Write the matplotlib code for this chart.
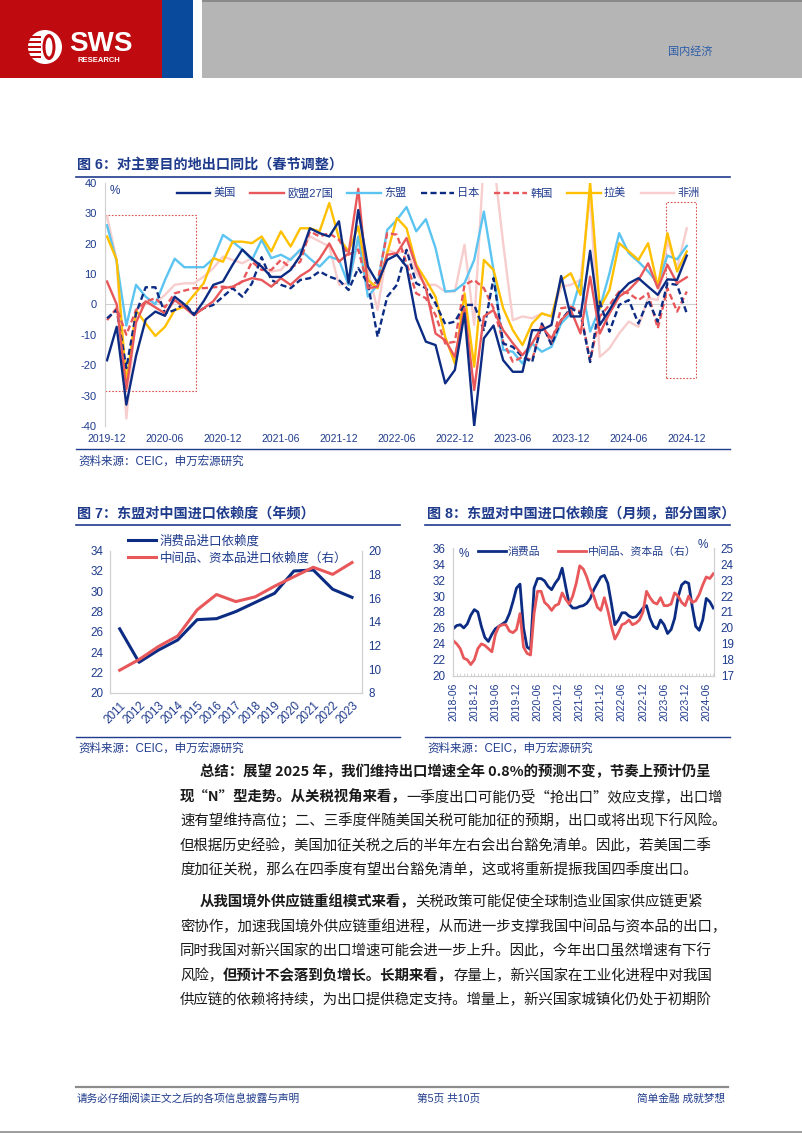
import numpy as np
import pandas as pd
import matplotlib
matplotlib.use("Agg")
import matplotlib.pyplot as plt
from matplotlib.patches import Rectangle, Circle, Ellipse

plt.rcParams['font.family'] = ['Liberation Sans', 'Noto Sans CJK SC']
plt.rcParams['axes.unicode_minus'] = False

W, H = 802, 1133
NAVY = '#0c2c84'
RED = '#e8585b'
TXT = '#1f3b8c'
GRID = '#d0d0d0'

# ---- 图6 data: monthly, 2019-12 .. 2024-12 (spring festival adjusted yoy, %)
months6 = list(pd.period_range('2019-12', '2024-12', freq='M').strftime('%Y-%m'))
us = [-18.4, -7.4, -33, -17, -5, -2.4, -3.8, 2.5, 0, -3.5, 1, 6.4, 7.5, 13, 18, 15, 12.4, 9, 9, 11.3, 16,
      25, 23.4, 22.3, 27.3, 7, 31, 12.4, 7, 14.6, 16.3, 12.4, -4.6, -12.3, -13.4, -26, -21.6, -3, -40, -11.2, -7,
      -18.4, -22.2, -22.2, -8.5, -8.5, -6.8, 9.3, -4, -4, 17.6, -6.8, -1.9, 3.6, 6.9, 8.6, 5.8, 3.1, 8.2, 8, 16]
eu = [7.5, 0, -28, -6, 1, -1, -3, 1.4, -1, -3.6, -1.3, 1, 5.3, 5.8, 7.5, 8.6, 8, 5.8, 8.6, 6.4, 9.3,
      11.3, 15, 20, 14, 16.8, 38, 5.3, 5.8, 16.3, 16.8, 21.8, 12.4, 5.3, -9.6, -11.8, -17.3, -1.3, -28.2, -4, -1.9,
      -8.5, -12.8, -16.7, -12.8, -7.4, -11.2, -5.2, -1.9, -9.6, 9.1, -9.6, -3, 2.5, 4.7, 8, 13.5, 5.3, 13, 6.9, 8.9]
asean = [26, 14, -7, 6.4, 2.5, 0, 8, 15, 12.2, 12.2, 12.2, 15, 22.8, 20.6, 18, 14.6, 21.2, 15.2, 16.3, 14.6, 18,
         15, 12.4, 15.7, 14.6, 6.4, 22.3, 2.5, 6.4, 24.5, 27.8, 32, 24, 28, 18.5, 4.2, 4.5, 7, 14.6, 30.5, 11.3,
         -15, -15.6, -19.5, -12.9, -15.6, -14, -6.3, -3, 8, -9, -1.3, 10.2, 23.4, 16.8, 14, 10.8, 6.9, 16, 14.8, 19.2]
japan = [-4.6, -1.9, -21, -3, 5.6, 5.6, -3, -1.9, 0.3, -3.2, -1.3, -0.2, 2.5, 5.3, 2.5, 6.9, 15.5, 8, 6.4, 5.3, 8,
         8.6, 10.8, 9.1, 8, 4.7, 11.9, 6.9, -10.7, 2.5, 6.4, 17.9, 6.9, 5.3, 0.3, -6.5, -5.7, -0.2, -0.2, -8.5, 8.6,
         -12.9, -14, -17.3, -19, -6.3, -13.4, -5.2, -1.3, -3, -19, 0.9, -9, -0.2, 1.4, -6.3, 1.4, -5.7, 6.9, 6.4, -3]
korea = [-5.2, -1.3, -10, -1.9, 0.9, 2, -1, 3.6, 4.5, 5.3, 5.3, 5.6, 5.8, 5.3, 7.5, 14, 11.3, 11.3, 14.6, 11.9, 14,
         24, 22.3, 23.4, 21.2, 16.3, 18, 5.8, 7.5, 23.4, 22.9, 13.5, 3.6, 2, -3.5, -12.9, -12.3, 6.4, 8, 5.3, -1.3,
         -12.3, -18.9, -17.3, -18.4, -6.3, -12.9, -1.3, -0.8, -2.4, -18.4, -4, -0.2, 4.2, 3.6, 1.4, 3.6, -7.9, 5.3, -2.4, 4.2]
latam = [22.3, 14.6, -26, -2, -6.3, -10.4, -7.4, -1.9, -0.8, 3.1, 6.9, 15.2, 14, 20.6, 20.6, 20.1, 22.3, 17.4, 24, 19, 25,
         25, 24, 33.3, 21.8, 17.4, 25.6, 8, 5.3, 16.8, 28.4, 25, 13, 8, 2.5, -10.7, -19.5, 3.6, -20.5, 14.6, 11.3,
         -1.3, -8.5, -13.4, -6.3, -3, -4, 8, 10.2, 3.1, 40, -1.3, 4.7, 20.1, 17.4, 14.6, 20.1, 5.8, 23.4, 10.8, 17.4]
africa = [28.9, 14.6, -37.6, -1.9, 0.3, 0.3, 3.1, 6.4, 6.9, 6.9, 9.1, 11.9, 15.7, 14.6, 13.5, 15.2, 12.4, 10.8, 11.3, 15.2, 17.4,
          22.3, 20.7, 19, 6.4, 6.9, 20.7, 11.3, -1.9, 17.9, 16.8, 17.9, 10.2, 6.4, 6.4, 4.2, 4.2, 19.6, -6.8, 48, 48,
          20, -5.2, -4, -4.6, -3, -4, 5.8, 6.4, 8, 36, -17.3, -14.5, -9.6, -5.7, -7.4, 2, 1.4, 20.7, 11.9, 25]
# highlighted windows (x: month index, y: %)
box_a = (-0.2, 9.2, -28.4, 29.5)
box_b = (57.9, 61.0, -24.3, 33.6)

# ---- 图7 data: yearly
years7 = [str(y) for y in range(2011, 2024)]
consumer7 = [26.3, 23.0, 24.2, 25.2, 27.2, 27.3, 28.0, 28.9, 29.8, 32.0, 32.1, 30.2, 29.4]
capital7 = [9.9, 10.8, 11.9, 12.8, 15.0, 16.3, 15.7, 16.1, 17.0, 17.8, 18.6, 18.0, 19.0]

# ---- 图8 data: monthly 2018-06 .. 2024-08
months8 = list(pd.period_range('2018-06', '2024-08', freq='M').strftime('%Y-%m'))
consumer8 = [25.9, 26.3, 26.4, 26.0, 26.5, 27.6, 28.3, 28.0, 26.2, 24.8, 24.3, 25.2, 25.9, 26.2, 26.5, 26.8,
             27.8, 29.3, 31.0, 31.5, 26.0, 23.6, 23.3, 31.0, 32.2, 32.2, 31.9, 31.2, 30.8, 31.6, 32.2, 33.5,
             31.2, 29.0, 28.5, 28.5, 28.7, 28.8, 29.1, 29.7, 30.8, 31.6, 32.4, 32.6, 31.6, 29.1, 26.4, 27.0,
             27.9, 27.9, 27.5, 27.3, 27.4, 27.9, 28.5, 28.8, 27.2, 26.2, 25.9, 27.0, 26.4, 25.3, 25.8, 27.2,
             29.9, 31.4, 31.8, 31.6, 28.7, 26.2, 25.7, 27.0, 29.7, 29.3, 28.5]
capital8 = [19.2, 19.0, 18.7, 18.1, 18.0, 17.7, 18.0, 18.7, 19.0, 18.9, 18.7, 18.5, 19.6, 20.1, 20.2, 20.2,
            19.8, 19.7, 19.9, 20.9, 18.8, 18.4, 18.3, 20.9, 22.3, 22.3, 21.6, 21.4, 21.1, 21.4, 21.5, 22.2,
            21.8, 21.5, 22.0, 22.8, 23.9, 23.7, 23.2, 22.5, 22.0, 21.3, 21.1, 21.9, 21.1, 20.1, 19.3, 19.7,
            20.2, 20.3, 20.5, 20.2, 20.3, 20.5, 21.0, 22.3, 21.9, 21.6, 21.5, 21.9, 21.4, 21.4, 21.5, 22.2,
            22.0, 21.6, 21.4, 22.0, 21.6, 21.7, 22.1, 22.7, 23.2, 23.1, 23.4]

body = [
    (200, 772, [("总结：展望 2025 年，我们维持出口增速全年 0.8%的预测不变，节奏上预计仍呈", True)]),
    (180, 797, [("现“N”型走势。从关税视角来看，", True), ("一季度出口可能仍受“抢出口”效应支撑，出口增", False)]),
    (180, 821, [("速有望维持高位；二、三季度伴随美国关税可能加征的预期，出口或将出现下行风险。", False)]),
    (180, 846, [("但根据历史经验，美国加征关税之后的半年左右会出台豁免清单。因此，若美国二季", False)]),
    (180, 870, [("度加征关税，那么在四季度有望出台豁免清单，这或将重新提振我国四季度出口。", False)]),
    (200, 902, [("从我国境外供应链重组模式来看，", True), ("关税政策可能促使全球制造业国家供应链更紧", False)]),
    (180, 927, [("密协作，加速我国境外供应链重组进程，从而进一步支撑我国中间品与资本品的出口，", False)]),
    (180, 951, [("同时我国对新兴国家的出口增速可能会进一步上升。因此，今年出口虽然增速有下行", False)]),
    (180, 976, [("风险，", False), ("但预计不会落到负增长。长期来看，", True), ("存量上，新兴国家在工业化进程中对我国", False)]),
    (180, 1000, [("供应链的依赖将持续，为出口提供稳定支持。增量上，新兴国家城镇化仍处于初期阶", False)]),
]

fig = plt.figure(figsize=(W / 100, H / 100), dpi=100)
bg = fig.add_axes([0, 0, 1, 1])
bg.set_xlim(0, W)
bg.set_ylim(H, 0)
bg.axis('off')


def box(x0, y0, x1, y1):
    a = fig.add_axes([x0 / W, 1 - y1 / H, (x1 - x0) / W, (y1 - y0) / H])
    a.set_facecolor('none')
    return a


# header
bg.add_patch(Rectangle((0, 0), 162, 78, color='#bf0a0f', lw=0))
bg.add_patch(Rectangle((162, 0), 31, 78, color='#0a4a9c', lw=0))
bg.add_patch(Rectangle((202, 0), 600, 78, color='#b5b5b5', lw=0))
bg.add_patch(Rectangle((202, 0), 600, 2, color='#8a8a8a', lw=0))
bg.add_patch(Circle((45, 47), 17, color='white', lw=0))
for yy in (36, 41, 46, 51, 56):
    bg.add_patch(Rectangle((27, yy), 14, 2, color='#bf0a0f', lw=0))
bg.add_patch(Ellipse((49, 47), 13, 26, color='#bf0a0f', lw=0))
bg.add_patch(Ellipse((49, 47), 7, 19, color='white', lw=0))
bg.text(69, 44, "SWS", fontsize=20, fontweight='bold', color='white', va='center', ha='left')
bg.text(77, 60, "RESEARCH", fontsize=5.5, fontweight='bold', color='white', va='center', ha='left')
bg.text(690, 52, "国内经济", fontsize=8, color='#2a5caa', va='center', ha='center')

# titles / rules / sources
def title(x, y, s):
    bg.text(x, y, s, fontsize=10.2, fontweight='bold', color=TXT, va='center', ha='left')

title(77, 165, "图 6：对主要目的地出口同比（春节调整）")
bg.plot([76, 730], [177, 177], color=TXT, lw=1.2)
bg.plot([76, 730], [449, 449], color=TXT, lw=1.0)
bg.text(78, 462, "资料来源：CEIC，申万宏源研究", fontsize=8.3, color=TXT, va='center')

title(77, 514, "图 7：东盟对中国进口依赖度（年频）")
title(427, 514, "图 8：东盟对中国进口依赖度（月频，部分国家）")
for a, b in ((76, 400), (425, 730)):
    bg.plot([a, b], [525, 525], color=TXT, lw=1.2)
    bg.plot([a, b], [737, 737], color=TXT, lw=1.0)
    bg.text(a + 2, 749, "资料来源：CEIC，申万宏源研究", fontsize=8.3, color=TXT, va='center')

# ---- chart 6
ax6 = box(105, 182.7, 697, 425.9)
x6 = np.arange(len(months6))
specs = [("美国", us, NAVY, '-'), ("欧盟27国", eu, RED, '-'), ("东盟", asean, '#5cc4f0', '-'),
         ("日本", japan, NAVY, '--'), ("韩国", korea, RED, '--'), ("拉美", latam, '#ffc000', '-'),
         ("非洲", africa, '#f7cdcd', '-')]
order = [6, 2, 5, 4, 3, 1, 0]
lines = {}
for k in order:
    name, vals, col, ls = specs[k]
    ln, = ax6.plot(x6, vals, color=col, lw=1.7, ls=ls, label=name)
    if ls == '--':
        ln.set_dashes((2.6, 1.4))
    lines[k] = ln
for (xa, xb, ya, yb) in (box_a, box_b):
    ax6.add_patch(Rectangle((xa, ya), xb - xa, yb - ya, fill=False, ec='#d9534f', lw=0.8, ls=(0, (1.5, 1.5))))
ax6.axhline(0, color=GRID, lw=0.8, zorder=0)
ax6.set_xlim(-0.21, 61.06)
ax6.set_ylim(-40, 40)
ax6.set_yticks(range(-40, 41, 10))
ax6.set_xticks(x6[::6])
ax6.set_xticklabels(months6[::6])
for s in ('top', 'right', 'bottom'):
    ax6.spines[s].set_visible(False)
ax6.spines['left'].set_color(GRID)
ax6.tick_params(axis='x', length=0, labelsize=7.5, colors=TXT, pad=6)
ax6.tick_params(axis='y', length=0, labelsize=8, colors=TXT, pad=6)
ax6.legend([lines[k] for k in range(7)], [specs[k][0] for k in range(7)], ncol=7, loc='center left',
           bbox_to_anchor=((177 - 105) / 592, (425.9 - 193) / 243.2), frameon=False, fontsize=8,
           handlelength=3.0, handletextpad=0.3, columnspacing=1.3, borderpad=0, borderaxespad=0,
           labelcolor=TXT)
bg.text(110, 191, "%", fontsize=8.5, color=TXT, va='center')

# ---- chart 7
ax7 = box(110, 550.7, 361.7, 692.7)
x7 = np.arange(len(years7))
l7a, = ax7.plot(x7, consumer7, color=NAVY, lw=2.2, label="消费品进口依赖度")
ax7.set_xlim(-0.5, len(years7) - 0.5)
ax7.set_ylim(20, 34)
ax7.set_yticks(range(20, 35, 2))
ax7r = ax7.twinx()
ax7r.set_facecolor('none')
l7b, = ax7r.plot(x7, capital7, color=RED, lw=2.2, label="中间品、资本品进口依赖度（右）")
ax7r.set_ylim(8, 20)
ax7r.set_yticks(range(8, 21, 2))
ax7.set_xticks(x7)
ax7.set_xticklabels(years7, rotation=45, ha='right', va='top', rotation_mode='anchor')
for a in (ax7, ax7r):
    a.spines['top'].set_visible(False)
    for s in ('left', 'right', 'bottom'):
        a.spines[s].set_color(GRID)
    a.tick_params(length=0, labelsize=8.4, colors=TXT, pad=5)
ax7.tick_params(axis='x', pad=5)
ax7r.legend([l7a, l7b], [l7a.get_label(), l7b.get_label()], loc='upper left',
            bbox_to_anchor=((128.3 - 110) / 251.7, (692.7 - 535) / 142), frameon=False, fontsize=9,
            handlelength=2.2, handletextpad=0.3, labelspacing=0.35, borderpad=0, borderaxespad=0,
            labelcolor=TXT)

# ---- chart 8
ax8 = box(452.7, 548.3, 713.8, 675.7)
x8 = np.arange(len(months8))
l8a, = ax8.plot(x8, consumer8, color=NAVY, lw=2.0, label="消费品")
ax8.set_xlim(-0.15, len(months8) - 0.85)
ax8.set_ylim(20, 36)
ax8.set_yticks(range(20, 37, 2))
ax8r = ax8.twinx()
ax8r.set_facecolor('none')
l8b, = ax8r.plot(x8, capital8, color=RED, lw=2.0, label="中间品、资本品（右）")
ax8r.set_ylim(17, 25)
ax8r.set_yticks(range(17, 26))
ax8.set_xticks(x8[::6])
ax8.set_xticks(x8, minor=True)
ax8.set_xticklabels(months8[::6], rotation=90, ha='center', va='top')
for a in (ax8, ax8r):
    a.spines['top'].set_visible(False)
    for s in ('left', 'right', 'bottom'):
        a.spines[s].set_color(GRID)
    a.tick_params(length=0, labelsize=8.4, colors=TXT, pad=5)
ax8.tick_params(axis='x', which='both', direction='in', length=2.5, color=GRID, labelsize=7.5, pad=5)
ax8r.legend([l8a, l8b], [l8a.get_label(), l8b.get_label()], ncol=2, loc='center left',
            bbox_to_anchor=((478 - 452.7) / 261.1, (675.7 - 552) / 127.4), frameon=False, fontsize=7.8,
            handlelength=2.6, handletextpad=0.15, columnspacing=1.6, borderpad=0, borderaxespad=0,
            labelcolor=TXT)
bg.text(459, 554, "%", fontsize=8.5, color=TXT, va='center')
bg.text(698, 545, "%", fontsize=8.5, color=TXT, va='center')

# ---- body text
renderer = fig.canvas.get_renderer()
BODY = ['Noto Sans CJK SC', 'DejaVu Sans']
for x, y, parts in body:
    for s, bold in parts:
        t = bg.text(x, y, s, fontsize=10.4, family=BODY, fontweight='bold' if bold else 'normal',
                    color='#1a1a1a', va='center', ha='left')
        x += t.get_window_extent(renderer=renderer).width

# ---- footer
bg.plot([76, 728], [1087, 1087], color='#8c8c8c', lw=1.6)
bg.text(77, 1099, "请务必仔细阅读正文之后的各项信息披露与声明", fontsize=7.7, color=TXT, va='center')
bg.text(449, 1099, "第5页 共10页", fontsize=7.7, color=TXT, va='center', ha='center')
bg.text(725, 1099, "简单金融 成就梦想", fontsize=7.7, color=TXT, va='center', ha='right')
bg.plot([0, W], [1131.5, 1131.5], color='#8c8c8c', lw=1.2)

fig.savefig("out.png", dpi=100)
